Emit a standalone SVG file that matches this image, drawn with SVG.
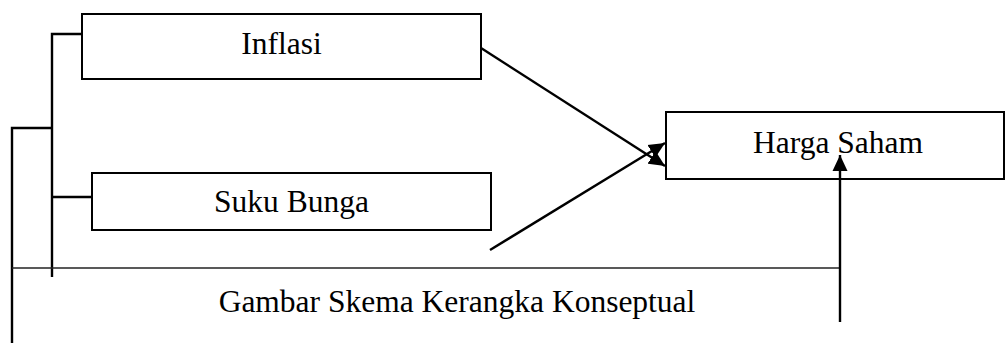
<svg xmlns="http://www.w3.org/2000/svg" width="1006" height="343" viewBox="0 0 1006 343">
<style>
.box{fill:#fff;stroke:#000;stroke-width:2}
.lbl{font-family:"Liberation Serif","Times New Roman",serif;font-size:31.5px;fill:#000;text-anchor:middle}
.ln{fill:none;stroke:#000;stroke-width:2.4}
.thin{fill:none;stroke:#222;stroke-width:1.6}
</style>
<defs>
<marker id="ah" markerUnits="userSpaceOnUse" markerWidth="16" markerHeight="16" viewBox="0 0 16 16" refX="16" refY="8" orient="auto">
<path d="M0,0.5 L16,8 L0,15.5 Z" fill="#000"/>
</marker>
</defs>
<g id="inflasi">
<rect class="box" x="82" y="14" width="399" height="65"/>
<text class="lbl" x="281.5" y="54">Inflasi</text>
</g>
<g id="suku-bunga">
<rect class="box" x="92" y="173" width="399" height="57"/>
<text class="lbl" x="291.5" y="212">Suku Bunga</text>
</g>
<g id="harga-saham">
<rect class="box" x="666" y="112" width="338" height="67"/>
<text class="lbl" x="838" y="153">Harga Saham</text>
</g>
<g id="connectors">
<polyline class="ln" points="82,34 52,34 52,277"/>
<line class="ln" x1="52" y1="197" x2="92" y2="197"/>
<polyline class="ln" points="52,128 12,128 12,343"/>
<line class="thin" x1="12" y1="268" x2="840" y2="268"/>
<line class="ln" x1="481" y1="48" x2="665" y2="166" marker-end="url(#ah)"/>
<line class="ln" x1="490" y1="250" x2="665" y2="143" marker-end="url(#ah)"/>
<line class="ln" x1="840" y1="322" x2="840" y2="155" marker-end="url(#ah)"/>
</g>
<text class="lbl" x="457" y="312">Gambar Skema Kerangka Konseptual</text>
</svg>
